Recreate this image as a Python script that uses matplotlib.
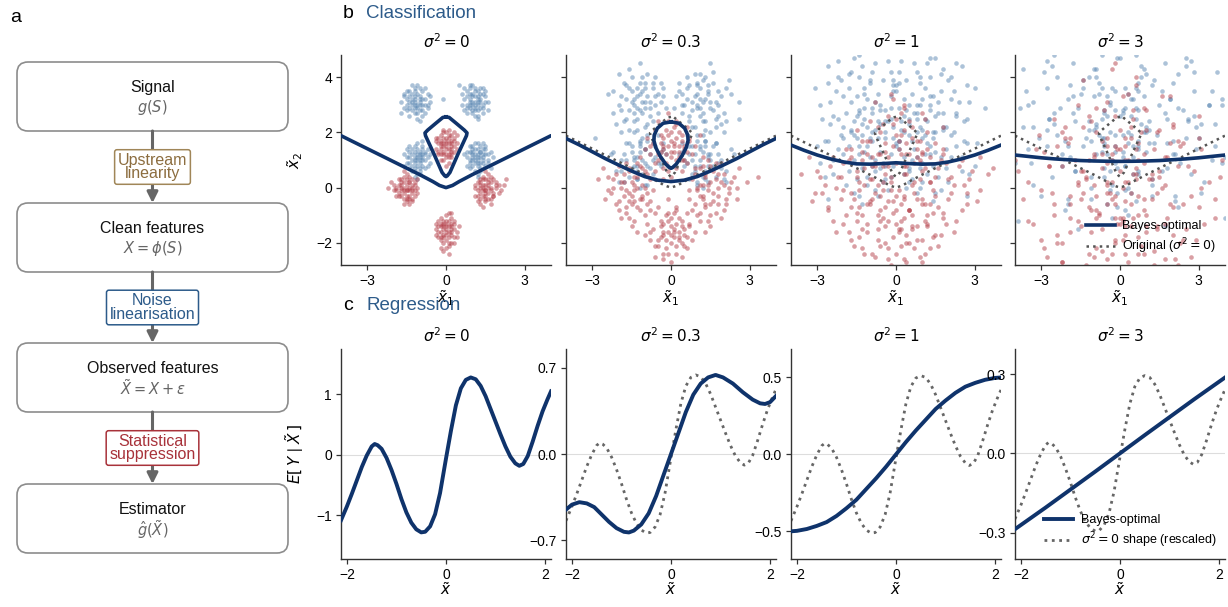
import numpy as np
import matplotlib.pyplot as plt
from matplotlib.patches import FancyBboxPatch

plt.rcParams['font.family'] = ['Liberation Sans', 'DejaVu Sans']
plt.rcParams['mathtext.fontset'] = 'dejavusans'

NAVY = '#0f336b'
BLUE_PT = '#5a87b3'
RED_PT = '#b5404a'
DOT_GRAY = '#555555'
HEAD_BLUE = '#2d5b8a'

# ---------------- data ----------------
sigma_labels = ['0', '0.3', '1', '3']

# classification scatter, coordinates in tenths (x, y)
cls0_blue = [(-12,31),(-10,33),(-14,29),(-9,30),(-13,34),(-11,27),(-8,32),(-15,32),(-12,36),(-10,28),(-7,30),(-14,26),(-11,30),(-13,31),(-9,35),(-16,29),(-12,33),(-10,31),(-6,33),(-15,35),(-11,25),(-13,28),(-8,27),(-12,29),(-9,32),(-14,33),(-10,36),(-17,31),(-11,34),(-7,34),(-13,30),(-12,27),(-8,30),(-15,28),(-10,30),(-12,32),(-14,31),(-9,28),(-11,37),(-16,33),
             (-13,37),(-6,31),(-17,27),(-10,24),(-14,35),(-8,36),(-12,30),(-16,34),(-9,26),(-11,29),(-13,32),(-7,29),(-15,30),(-10,32),(-12,35),
             (10,31),(12,33),(8,30),(11,28),(9,34),(13,31),(7,32),(11,35),(14,29),(10,27),(12,30),(9,32),(15,33),(11,31),(8,35),(13,36),(10,33),(6,30),(12,28),(9,29),(14,34),(11,26),(10,30),(13,32),(8,27),(12,35),(10,37),(16,31),(9,31),(11,33),(7,28),(13,29),(10,34),(12,31),(9,36),(14,30),(11,29),(8,33),(15,35),(12,26),(5,37),(-1,32),
             (9,37),(15,31),(6,34),(12,25),(14,36),(8,29),(11,30),(16,28),(7,36),(13,34),(10,28),(12,32),(9,30),(14,27),(11,36),
             (-11,10),(-9,12),(-13,8),(-10,7),(-12,13),(-8,10),(-14,11),(-11,14),(-10,9),(-12,6),(-9,8),(-13,12),(-7,11),(-11,11),(-15,9),(-10,13),(-12,9),(-8,13),(-11,5),(-14,7),(-9,15),(-13,10),(-10,11),(-6,9),(-12,11),(-11,8),(-16,12),(-9,10),(-13,14),(-10,6),(-8,7),(-12,15),(-11,12),(-14,13),(-7,14),(-10,10),(-12,7),(-9,17),(-15,11),(-11,3),
             (-15,14),(-7,8),(-12,4),(-9,14),(-14,9),(-10,12),(-13,6),(-8,12),(-16,8),(-11,16),(-6,12),(-12,10),(-10,5),(-14,15),(-9,11),
             (12,11),(10,12),(14,10),(11,9),(13,13),(9,10),(15,12),(12,14),(10,8),(13,7),(11,12),(14,14),(8,11),(12,9),(16,10),(10,15),(13,11),(11,6),(9,13),(15,8),(12,12),(14,11),(10,10),(17,13),(11,14),(13,9),(8,8),(12,16),(15,15),(11,11),(9,7),(14,12),(12,8),(10,13),(16,9),(13,15),(11,10),(7,12),(12,5),(18,11),
             (15,14),(9,9),(12,4),(10,14),(14,9),(12,10),(16,12),(8,13),(13,6),(11,16),(17,7),(10,11),(13,13),(9,15),(14,16)]
cls0_red = [(0,15),(2,17),(-2,14),(1,12),(-1,18),(3,15),(-3,16),(0,11),(2,13),(-2,19),(1,16),(-1,13),(0,20),(4,16),(-4,14),(1,9),(-1,16),(2,19),(-3,12),(0,14),(3,18),(-2,17),(1,14),(-1,10),(2,16),(0,17),(-4,17),(3,13),(-1,15),(1,18),(0,12),(-2,15),(2,11),(-3,18),(1,21),(0,8),(4,19),(-1,20),(2,14),(-2,12),
            (-2,10),(3,20),(1,11),(-3,13),(2,15),(-1,21),(4,14),(0,16),(-4,18),(2,12),(-2,16),(1,19),(3,17),(-1,12),(0,18),
            (-15,-1),(-13,1),(-17,0),(-14,-3),(-16,2),(-12,-1),(-18,-2),(-15,3),(-14,0),(-16,-4),(-13,-2),(-17,1),(-11,0),(-15,-1),(-19,0),(-14,2),(-16,-2),(-12,1),(-15,-5),(-18,3),(-13,-4),(-17,-1),(-14,-1),(-20,1),(-15,1),(-16,0),(-12,-3),(-15,5),(-13,3),(-18,-3),(-14,-6),(-16,4),(-11,-2),(-17,2),(-15,-3),(-13,0),(-19,-1),(-14,4),(-16,-6),(-21,2),
            (-17,3),(-13,-5),(-19,-3),(-12,2),(-16,-1),(-14,2),(-18,1),(-20,-1),(-13,-1),(-15,-4),(-17,-3),(-11,3),(-16,6),(-14,-4),(-22,0),
            (15,-1),(13,1),(17,0),(14,-3),(16,2),(12,-1),(18,-2),(15,3),(14,0),(16,-4),(13,-2),(17,2),(11,1),(15,1),(19,0),(14,4),(16,-2),(12,2),(15,-5),(18,3),(13,-4),(17,-1),(14,1),(20,1),(15,-2),(16,0),(12,-3),(15,6),(13,3),(18,-3),(14,-7),(16,5),(11,0),(19,2),(15,-3),(13,0),(21,-1),(14,3),(17,-6),(23,3),
            (16,3),(12,-5),(18,-3),(13,2),(15,-1),(17,4),(19,1),(20,-2),(14,-1),(15,-4),(17,-4),(11,-3),(16,1),(13,-6),(22,1),
            (0,-15),(2,-13),(-2,-16),(1,-18),(-1,-12),(3,-15),(-3,-14),(0,-19),(2,-17),(-2,-11),(1,-14),(-1,-17),(0,-10),(4,-16),(-4,-15),(1,-21),(-1,-15),(2,-11),(-3,-18),(0,-13),(3,-12),(-2,-14),(1,-16),(-1,-20),(2,-15),(0,-17),(-4,-13),(3,-18),(-1,-14),(1,-12),(0,-22),(-2,-19),(2,-20),(-3,-16),(1,-9),(0,-16),(5,-14),(-1,-23),(2,-14),(-2,-13),
            (-2,-18),(3,-13),(1,-20),(-3,-12),(2,-16),(-1,-13),(4,-18),(0,-14),(-4,-17),(2,-9),(-2,-22),(1,-24),(3,-20),(-1,-18),(0,-12)]

cls1_blue = [(-18,38),(-5,27),(-14,24),(-9,41),(-20,30),(-12,34),(-3,33),(-16,36),(-10,22),(-13,29),(-7,36),(-22,27),(-11,31),(-15,40),(-6,30),(-17,25),(-9,33),(-12,45),(-24,34),(-4,38),(-14,32),(-8,26),(-19,33),(-10,38),(-13,21),(-2,29),(-16,28),(-11,35),(-7,24),(-15,31),(-12,28),(-20,41),(-8,31),(-17,37),(-5,34),(-13,36),(-10,29),(-21,23),(-6,40),(-14,27),
             (-15,35),(-8,29),(-11,40),(-19,28),(-6,33),(-13,25),(-10,36),(-17,32),(-4,31),(-12,38),(-14,30),(-9,23),(-16,43),(-7,38),(-22,35),(-11,27),(-3,36),(-18,24),(-13,33),(-10,31),
             (16,38),(4,27),(12,24),(9,41),(18,30),(10,34),(2,33),(14,37),(8,22),(11,29),(6,36),(20,27),(11,32),(15,45),(5,30),(17,25),(9,33),(13,40),(23,34),(3,38),(12,31),(7,26),(19,33),(10,38),(13,21),(1,29),(16,28),(11,36),(7,24),(15,31),(12,27),(22,39),(8,31),(18,35),(4,34),(14,35),(10,29),(21,24),(6,40),(26,31),
             (14,34),(8,28),(11,41),(18,26),(6,32),(13,24),(10,37),(17,31),(4,30),(12,39),(15,29),(9,22),(16,42),(7,37),(21,36),(11,26),(3,35),(19,23),(13,32),(10,30),
             (-17,16),(-4,8),(-13,3),(-9,19),(-19,10),(-12,13),(-2,12),(-15,15),(-10,1),(-13,8),(-6,15),(-21,6),(-11,10),(-14,20),(-5,9),(-16,4),(-8,12),(-12,17),(-23,12),(-3,16),(-14,11),(-7,5),(-18,12),(-9,17),(-12,0),(-1,8),(-15,7),(-10,14),(-6,3),(-14,10),(-29,18),(-19,20),(-7,10),(-16,16),(-4,13),(-12,15),(-9,8),(-20,2),(-5,19),(-13,6),
             (-15,13),(-8,7),(-11,18),(-19,6),(-6,11),(-13,3),(-10,14),(-17,10),(-4,9),(-12,16),(-14,8),(-9,1),(-16,21),(-7,16),(-22,13),(-11,5),(-3,14),(-18,2),(-13,11),(-10,9),
             (17,16),(5,8),(13,3),(10,19),(19,10),(12,13),(3,12),(16,15),(10,1),(14,8),(7,15),(21,6),(11,10),(15,20),(6,9),(17,4),(9,12),(13,17),(24,12),(4,16),(14,11),(8,5),(18,12),(10,17),(12,0),(2,8),(16,7),(11,14),(7,3),(15,10),(26,25),(20,20),(8,10),(17,16),(5,13),(13,15),(9,8),(21,2),(6,19),(13,6),
             (15,12),(9,6),(12,19),(19,7),(7,12),(14,2),(11,15),(18,9),(5,10),(13,17),(16,8),(10,2),(17,22),(8,15),(23,14),(12,4),(4,13),(20,3),(14,12),(11,8)]
cls1_red = [(-6,21),(5,10),(2,24),(-3,7),(7,18),(-1,15),(-8,12),(4,17),(0,4),(-4,19),(3,13),(-7,16),(1,22),(6,9),(-2,12),(9,15),(-5,10),(2,18),(-1,27),(5,14),(-9,18),(0,11),(3,20),(-3,14),(8,12),(-6,6),(1,16),(-2,21),(4,6),(-4,13),(11,19),(0,17),(-10,14),(2,10),(-1,19),(6,22),(-3,3),(3,15),(-5,24),(1,13),
            (-4,16),(3,11),(0,20),(-6,9),(5,15),(-1,6),(2,23),(-3,18),(6,13),(0,13),(-8,15),(4,19),(-2,9),(1,15),(7,17),(-5,12),(2,7),(-1,24),(4,10),(-3,15),
            (-21,5),(-9,-6),(-12,8),(-17,-9),(-8,3),(-14,-1),(-23,-2),(-11,1),(-15,-14),(-19,2),(-12,-4),(-16,6),(-10,-10),(-24,4),(-13,-7),(-18,-3),(-7,-1),(-15,2),(-20,-8),(-11,-3),(-17,9),(-14,-12),(-22,0),(-9,5),(-16,-5),(-28,3),(-13,4),(-19,-11),(-10,0),(-15,-6),(-25,-4),(-12,11),(-18,5),(-8,-8),(-14,1),(-21,-6),(-16,-2),(-11,7),(-26,7),(-13,-16),
            (-18,2),(-11,-4),(-16,7),(-20,-5),(-13,0),(-9,-2),(-17,-7),(-14,4),(-22,3),(-12,-8),(-19,0),(-15,-3),(-10,6),(-24,-1),(-16,-11),(-13,9),(-20,8),(-8,-5),(-17,-1),(-14,-5),
            (20,5),(9,-6),(12,8),(17,-9),(8,3),(14,-1),(22,-2),(11,1),(15,-14),(19,2),(12,-4),(16,6),(10,-10),(24,4),(13,-7),(18,-3),(7,-1),(15,2),(20,-8),(11,-3),(17,9),(14,-12),(22,0),(9,5),(16,-5),(29,2),(13,4),(19,-11),(10,0),(15,-6),(25,-4),(12,11),(18,5),(8,-8),(14,1),(21,-6),(33,4),(11,7),(26,7),(13,-16),
            (17,3),(12,-3),(15,8),(21,-4),(12,1),(10,-1),(18,-6),(13,5),(23,2),(11,-9),(20,1),(16,-2),(9,7),(25,0),(15,-10),(14,10),(19,9),(7,-4),(18,0),(13,-6),
            (-6,-9),(5,-21),(2,-7),(-3,-24),(7,-13),(-1,-16),(-8,-19),(4,-14),(0,-27),(-4,-12),(3,-18),(-7,-15),(1,-9),(6,-22),(-2,-19),(9,-16),(-5,-21),(2,-13),(-1,-4),(5,-17),(-9,-13),(0,-20),(3,-11),(-3,-17),(8,-19),(-6,-25),(1,-15),(-2,-10),(4,-25),(-4,-18),(11,-12),(0,-14),(-10,-17),(2,-21),(-1,-12),(6,-9),(-3,-26),(3,-16),(-5,-7),(1,-18),
            (-4,-14),(3,-19),(0,-11),(-6,-21),(5,-15),(-1,-24),(2,-8),(-3,-13),(6,-18),(0,-17),(-8,-16),(4,-12),(-2,-22),(1,-16),(7,-14),(-5,-19),(2,-24),(-1,-9),(4,-20),(-3,-16)]

cls2_blue = [(-22,40),(-3,24),(-15,18),(-8,45),(-25,31),(-12,36),(0,35),(-18,41),(-9,20),(-14,28),(-5,39),(-28,25),(-11,32),(-16,47),(-2,29),(-20,22),(-7,34),(-13,50),(-31,36),(1,42),(-15,33),(-6,23),(-23,35),(-9,42),(-14,15),(4,28),(-19,27),(-10,38),(-4,20),(-17,31),(-12,25),(-26,44),(-6,30),(-21,39),(-1,37),(-14,40),(-9,27),(-27,17),(-3,46),(-16,24),
             (-18,36),(-6,28),(-13,44),(-24,26),(-2,33),(-16,19),(-10,39),(-20,33),(-4,24),(-14,48),(-8,31),(-29,30),(-11,22),(-17,42),(1,38),(-22,46),(-7,18),(-12,34),(-26,38),(-9,29),
             (21,40),(2,24),(14,18),(7,45),(24,31),(11,36),(-1,35),(17,41),(8,20),(13,28),(4,39),(27,25),(10,32),(15,47),(1,29),(19,22),(6,34),(12,50),(30,36),(-2,42),(14,33),(5,23),(22,35),(8,42),(13,15),(-4,28),(18,27),(9,38),(3,20),(16,31),(11,25),(25,44),(5,30),(20,39),(0,37),(13,40),(8,27),(26,17),(2,46),(34,29),
             (17,35),(7,27),(12,45),(23,27),(3,32),(15,20),(9,40),(21,32),(5,25),(13,47),(9,30),(28,31),(10,21),(18,43),(-1,39),(23,45),(6,17),(13,33),(27,37),(8,30),
             (-21,19),(-2,4),(-14,-3),(-7,24),(-24,10),(-11,15),(1,14),(-17,20),(-8,-1),(-13,7),(-4,18),(-27,4),(-10,11),(-15,26),(-1,8),(-19,1),(-6,13),(-12,29),(-30,15),(2,21),(-14,12),(-5,2),(-22,14),(-8,21),(-13,-6),(5,7),(-18,6),(-9,17),(-3,-1),(-16,10),(-11,4),(-25,23),(-5,9),(-20,18),(0,16),(-13,19),(-8,6),(-26,-4),(-2,25),(-15,3),
             (-18,15),(-6,7),(-13,23),(-24,5),(-2,12),(-16,-2),(-10,18),(-20,12),(-4,3),(-14,27),(-8,10),(-29,9),(-11,1),(-17,21),(1,17),(-22,25),(-7,-3),(-12,13),(-26,17),(-9,8),
             (22,20),(3,5),(15,-2),(8,25),(25,11),(12,16),(0,15),(18,21),(9,0),(14,8),(5,19),(28,5),(11,12),(16,27),(2,9),(20,2),(7,14),(13,30),(31,16),(-1,22),(15,13),(6,3),(23,15),(9,22),(14,-5),(-4,8),(19,7),(10,18),(4,0),(17,11),(12,5),(26,24),(6,10),(21,19),(1,17),(14,20),(9,7),(27,-3),(3,26),(16,4),
             (19,14),(5,6),(12,24),(25,6),(3,11),(17,-1),(11,19),(21,11),(5,2),(15,26),(8,11),(30,8),(10,2),(18,22),(-1,18),(23,26),(8,-2),(13,12),(27,16),(10,9)]
cls2_red = [(-10,24),(9,9),(3,29),(-5,2),(12,20),(-1,15),(-13,10),(6,18),(0,-3),(-7,22),(4,12),(-11,17),(2,27),(10,6),(-3,11),(15,16),(-8,8),(3,21),(-2,34),(8,14),(-15,21),(0,9),(5,24),(-4,13),(13,11),(-9,3),(1,17),(-3,26),(7,2),(-6,12),(18,22),(0,19),(-17,14),(3,8),(-1,23),(10,27),(-5,-1),(4,16),(-8,31),(2,12),
            (-6,20),(5,12),(0,25),(-9,8),(8,17),(-2,4),(3,30),(-5,23),(10,13),(1,14),(-13,17),(6,22),(-3,8),(2,19),(11,25),(-7,12),(4,5),(-1,32),(7,9),(-4,16),
            (-25,8),(-6,-8),(-11,12),(-20,-13),(-4,5),(-14,-1),(-28,-2),(-10,3),(-16,-21),(-22,4),(-11,-6),(-18,10),(-7,-15),(-30,6),(-13,-10),(-21,-4),(-2,-1),(-15,4),(-24,-12),(-9,-4),(-19,14),(-14,-18),(-27,1),(-5,8),(-17,-7),(-36,5),(-12,7),(-23,-16),(-7,1),(-15,-9),(-32,-5),(-10,17),(-20,9),(-3,-12),(-14,2),(-26,-8),(-17,-2),(-9,11),(-33,11),(-12,-24),
            (-21,4),(-10,-5),(-17,11),(-26,-7),(-12,1),(-6,-3),(-19,-10),(-15,6),(-29,4),(-11,-13),(-23,0),(-16,-4),(-8,9),(-31,-2),(-18,-16),(-13,13),(-24,11),(-4,-7),(-20,-1),(-14,-7),
            (24,8),(5,-8),(10,12),(19,-13),(3,5),(14,-1),(27,-2),(9,3),(16,-21),(21,4),(10,-6),(17,10),(6,-15),(29,6),(12,-10),(20,-4),(1,-1),(15,4),(23,-12),(8,-4),(18,14),(14,-18),(26,1),(4,8),(16,-7),(35,5),(11,7),(22,-16),(6,1),(14,-9),(31,-5),(9,17),(19,9),(2,-12),(13,2),(25,-8),(37,7),(8,11),(32,11),(11,-24),
            (20,3),(11,-6),(18,12),(27,-6),(13,2),(7,-2),(18,-11),(16,7),(28,3),(12,-14),(22,1),(15,-3),(9,10),(32,-1),(17,-17),(12,14),(25,10),(5,-8),(21,-2),(13,-6),
            (-10,-6),(9,-25),(3,-3),(-5,-29),(12,-13),(-1,-18),(-13,-22),(6,-14),(0,-34),(-7,-10),(4,-20),(-11,-16),(2,-6),(10,-27),(-3,-22),(15,-17),(-8,-25),(3,-11),(-2,2),(8,-19),(-15,-12),(0,-24),(5,-8),(-4,-20),(13,-22),(-9,-31),(1,-15),(-3,-5),(7,-31),(-6,-21),(18,-9),(0,-13),(-17,-19),(3,-26),(-1,-9),(10,-4),(-5,-33),(4,-17),(-8,-2),(2,-21),
            (-6,-12),(5,-20),(0,-8),(-9,-24),(8,-14),(-2,-28),(3,-4),(-5,-11),(10,-19),(1,-16),(-13,-15),(6,-10),(-3,-26),(2,-15),(11,-12),(-7,-19),(4,-27),(-1,-5),(7,-22),(-4,-14)]

cls3_blue = [(-28,46),(3,20),(-22,12),(-5,52),(-35,30),(-14,39),(7,38),(-26,44),(-6,15),(-18,27),(-1,47),(-42,22),(-10,33),(-20,58),(4,26),(-31,18),(-3,36),(-16,55),(-47,38),(9,43),(-20,32),(-2,19),(-36,35),(-7,48),(-17,6),(11,24),(-27,25),(-9,40),(1,13),(-23,29),(-12,21),(-39,50),(-2,28),(-29,42),(6,36),(-18,45),(-7,25),(-40,9),(2,55),(-21,17),
             (-24,40),(2,29),(-16,50),(-33,22),(7,35),(-20,15),(-9,43),(-28,36),(4,19),(-18,54),(-5,33),(-41,31),(-11,17),(-25,48),(10,41),(-33,52),(-3,10),(-14,36),(-37,43),(-6,28),
             (27,46),(-4,20),(21,12),(4,52),(34,30),(13,39),(-8,38),(25,44),(5,15),(17,27),(0,47),(41,22),(9,33),(19,58),(-5,26),(30,18),(2,36),(15,55),(46,38),(-10,43),(19,32),(1,19),(35,35),(6,48),(16,6),(-12,24),(26,25),(8,40),(-2,13),(22,29),(11,21),(38,50),(1,28),(28,42),(-7,36),(17,45),(6,25),(39,9),(-3,55),(20,17),
             (22,41),(-4,30),(16,49),(31,23),(-8,34),(18,16),(8,44),(28,35),(-6,18),(16,53),(4,32),(39,32),(11,16),(25,47),(-12,40),(33,51),(1,11),(12,37),(37,42),(6,29),
             (-27,25),(3,0),(-21,-8),(-4,31),(-34,9),(-13,18),(7,17),(-25,23),(-5,-6),(-17,6),(0,26),(-41,1),(-9,12),(-19,37),(5,5),(-30,-3),(-2,15),(-15,34),(-46,17),(10,22),(-19,11),(-1,-2),(-35,14),(-6,27),(-16,-15),(12,3),(-26,4),(-8,19),(2,-8),(-22,8),(-11,0),(-38,29),(-1,7),(-28,21),(7,15),(-17,24),(-6,4),(-39,-12),(3,34),(-20,-4),
             (-24,19),(2,8),(-16,29),(-33,1),(7,14),(-20,-6),(-9,22),(-28,15),(4,-2),(-18,33),(-5,12),(-41,10),(-11,-4),(-25,27),(10,20),(-33,31),(-3,-11),(-14,15),(-37,22),(-6,7),
             (28,26),(-3,1),(22,-7),(5,32),(35,10),(14,19),(-7,18),(26,24),(6,-5),(18,7),(1,27),(42,2),(10,13),(20,38),(-4,6),(31,-2),(3,16),(16,35),(47,18),(-9,23),(20,12),(2,-1),(36,15),(7,28),(17,-14),(-11,4),(27,5),(9,20),(-1,-7),(23,9),(12,1),(39,30),(2,8),(29,22),(-6,16),(18,25),(7,5),(40,-11),(-2,35),(21,-3),
             (25,18),(-2,9),(15,30),(32,2),(-7,13),(21,-5),(8,23),(29,14),(-4,-1),(19,32),(5,11),(40,11),(12,-3),(24,28),(-10,21),(34,30),(3,-10),(13,16),(36,23),(7,6)]
cls3_red = [(-16,30),(15,4),(6,37),(-9,-3),(20,23),(-2,15),(-22,8),(10,21),(1,-11),(-12,26),(7,10),(-19,18),(3,34),(17,1),(-5,9),(24,16),(-13,4),(5,25),(-3,43),(13,14),(-25,25),(0,6),(9,29),(-7,12),(22,8),(-15,-4),(2,18),(-5,31),(12,-4),(-10,11),(30,26),(0,21),(-29,13),(5,5),(-2,26),(16,33),(-9,-8),(7,16),(-14,39),(3,10),
            (-11,24),(9,9),(1,33),(-16,2),(14,20),(-4,-2),(6,40),(-9,29),(17,11),(2,15),(-22,20),(10,28),(-5,2),(4,22),(19,33),(-12,10),(7,-3),(-2,45),(12,5),(-7,17),
            (-32,14),(-1,-13),(-9,20),(-24,-20),(2,10),(-14,-2),(-37,-4),(-7,7),(-17,-31),(-27,8),(-8,-10),(-20,16),(-3,-24),(-40,10),(-11,-16),(-25,-6),(4,-2),(-15,6),(-30,-19),(-5,-6),(-21,22),(-13,-28),(-35,2),(0,14),(-19,-11),(-45,9),(-10,12),(-28,-25),(-3,2),(-15,-14),(-42,-8),(-6,28),(-24,15),(1,-19),(-13,3),(-33,-13),(-19,-3),(-5,18),(-44,18),(-9,-36),
            (-27,8),(-8,-9),(-21,18),(-35,-12),(-10,1),(-3,-4),(-24,-17),(-17,10),(-39,6),(-9,-22),(-30,-1),(-19,-6),(-5,15),(-43,-3),(-22,-27),(-14,22),(-31,19),(1,-12),(-26,-2),(-16,-12),
            (31,14),(0,-13),(8,20),(23,-20),(-3,10),(14,-2),(36,-4),(6,7),(17,-31),(26,8),(7,-10),(19,16),(2,-24),(39,10),(10,-16),(24,-6),(-5,-2),(15,6),(29,-19),(4,-6),(20,22),(13,-28),(34,2),(-1,14),(18,-11),(44,9),(9,12),(27,-25),(2,2),(14,-14),(41,-8),(5,28),(23,15),(-2,-19),(12,3),(32,-13),(47,12),(4,18),(43,18),(8,-36),
            (28,6),(9,-8),(22,17),(36,-11),(11,3),(2,-5),(25,-15),(18,11),(38,4),(8,-21),(31,0),(20,-7),(6,14),(42,-2),(21,-26),(15,21),(30,18),(-2,-11),(27,-3),(17,-13),
            (-16,1),(15,-30),(6,3),(-9,-37),(20,-17),(-2,-20),(-22,-27),(10,-14),(1,-46),(-12,-7),(7,-24),(-19,-16),(3,2),(17,-33),(-5,-26),(24,-19),(-13,-34),(5,-11),(-3,12),(13,-23),(-25,-10),(0,-31),(9,-4),(-7,-23),(22,-28),(-15,-42),(2,-14),(-5,1),(12,-40),(-10,-25),(30,-7),(0,-11),(-29,-22),(5,-33),(-2,-6),(16,0),(-9,-44),(7,-18),(-14,6),(3,-27),
            (-11,-8),(9,-24),(1,0),(-16,-31),(14,-15),(-4,-36),(6,5),(-9,-11),(17,-26),(2,-17),(-22,-20),(10,-10),(-5,-39),(4,-14),(19,-6),(-12,-24),(7,-43),(-2,-3),(12,-32),(-7,-15)]

cls_blue = [cls0_blue, cls1_blue, cls2_blue, cls3_blue]
cls_red = [cls0_red, cls1_red, cls2_red, cls3_red]

# original (sigma^2 = 0) decision boundary: V branch and closed kite
v_x = [-4, -3, -2, -1, -0.5, -0.25, 0, 0.25, 0.5, 1, 2, 3, 4]
v_y = [1.88, 1.41, 0.94, 0.47, 0.22, 0.08, 0.0, 0.08, 0.22, 0.47, 0.94, 1.41, 1.88]
kite_x = [0, -0.12, -0.4, -0.7, -0.8, -0.78, -0.45, -0.15, -0.05, 0, 0.05, 0.15, 0.45, 0.78, 0.8, 0.7, 0.4, 0.12, 0]
kite_y = [2.56, 2.54, 2.32, 2.08, 1.98, 1.88, 1.2, 0.55, 0.43, 0.4, 0.43, 0.55, 1.2, 1.88, 1.98, 2.08, 2.32, 2.54, 2.56]

# Bayes-optimal boundaries for sigma^2 = 0.3, 1, 3
bnd_x = [-4, -3.5, -3, -2.5, -2, -1.5, -1, -0.5, 0, 0.5, 1, 1.5, 2, 2.5, 3, 3.5, 4]
bnd_y = [
    None,
    [1.78, 1.55, 1.3, 1.05, 0.82, 0.6, 0.4, 0.27, 0.22, 0.27, 0.4, 0.6, 0.82, 1.05, 1.3, 1.55, 1.78],
    [1.54, 1.35, 1.18, 1.04, 0.93, 0.86, 0.85, 0.87, 0.9, 0.87, 0.85, 0.86, 0.93, 1.04, 1.18, 1.35, 1.54],
    [1.18, 1.13, 1.08, 1.04, 1.01, 0.98, 0.965, 0.955, 0.95, 0.955, 0.965, 0.98, 1.01, 1.04, 1.08, 1.13, 1.18],
]
loop_x = [0, -0.3, -0.52, -0.64, -0.65, -0.58, -0.42, -0.2, -0.05, 0, 0.05, 0.2, 0.42, 0.58, 0.65, 0.64, 0.52, 0.3, 0]
loop_y = [2.38, 2.33, 2.15, 1.9, 1.7, 1.45, 1.15, 0.85, 0.72, 0.7, 0.72, 0.85, 1.15, 1.45, 1.7, 1.9, 2.15, 2.33, 2.38]

# regression: sigma^2 = 0 curve
g0_x = [-2.12, -2.0, -1.9, -1.8, -1.7, -1.6, -1.5, -1.44, -1.38, -1.3, -1.2, -1.1, -1.0, -0.9, -0.8,
        -0.7, -0.6, -0.5, -0.42, -0.32, -0.22, -0.12, 0.0, 0.1, 0.2, 0.3, 0.4, 0.5, 0.6, 0.7,
        0.8, 0.9, 1.0, 1.1, 1.2, 1.3, 1.4, 1.48, 1.56, 1.65, 1.75, 1.85, 1.95, 2.05, 2.12]
g0_y = [-1.08, -0.85, -0.64, -0.42, -0.20, -0.01, 0.14, 0.18, 0.16, 0.10, -0.05, -0.25, -0.48, -0.73, -0.95,
        -1.12, -1.23, -1.28, -1.27, -1.18, -0.98, -0.63, -0.06, 0.40, 0.82, 1.10, 1.24, 1.28, 1.25, 1.14,
        0.97, 0.76, 0.55, 0.34, 0.14, -0.03, -0.14, -0.18, -0.15, -0.02, 0.22, 0.48, 0.72, 0.92, 1.05]
# Bayes-optimal regression curves for sigma^2 = 0.3, 1, 3
reg_x = [
    [-2.12, -2.0, -1.85, -1.7, -1.55, -1.4, -1.25, -1.1, -0.95, -0.85, -0.75, -0.6, -0.45, -0.3, -0.15,
     0, 0.15, 0.3, 0.45, 0.6, 0.75, 0.9, 1.05, 1.25, 1.45, 1.65, 1.8, 1.9, 2.0, 2.12],
    [-2.12, -2.0, -1.8, -1.6, -1.4, -1.2, -1.0, -0.8, -0.6, -0.4, -0.2, 0, 0.2, 0.4, 0.6, 0.8, 1.0,
     1.2, 1.4, 1.6, 1.8, 2.0, 2.12],
    [-2.12, -1.5, -1.0, -0.5, 0, 0.5, 1.0, 1.5, 2.12],
]
reg_y = [
    [-0.45, -0.41, -0.39, -0.40, -0.43, -0.49, -0.55, -0.60, -0.63, -0.635, -0.62, -0.57, -0.48, -0.34, -0.17,
     0.0, 0.17, 0.34, 0.48, 0.57, 0.62, 0.64, 0.62, 0.57, 0.50, 0.44, 0.41, 0.405, 0.42, 0.47],
    [-0.50, -0.497, -0.485, -0.465, -0.44, -0.40, -0.35, -0.295, -0.225, -0.155, -0.08, 0, 0.08, 0.155,
     0.225, 0.295, 0.35, 0.40, 0.44, 0.465, 0.485, 0.497, 0.50],
    [-0.287, -0.205, -0.137, -0.069, 0, 0.069, 0.137, 0.205, 0.287],
]
shape_scale = [0.5, 0.4, 0.23]
reg_ylim = [(-1.72, 1.75), (-0.85, 0.85), (-0.68, 0.685), (-0.40, 0.395)]
reg_ticks = [[-1, 0, 1], [-0.7, 0, 0.7], [-0.5, 0, 0.5], [-0.3, 0, 0.3]]
reg_ticklabels = [['\u22121', '0', '1'], ['\u22120.7', '0.0', '0.7'],
                  ['\u22120.5', '0.0', '0.5'], ['\u22120.3', '0.0', '0.3']]

# ---------------- figure ----------------
W, H = 1228, 607
fig = plt.figure(figsize=(W / 100, H / 100), dpi=100)


def px_axes(left, top, w, h):
    return fig.add_axes([left / W, 1 - (top + h) / H, w / W, h / H])


def style(ax):
    for s in ['top', 'right']:
        ax.spines[s].set_visible(False)
    for s in ['left', 'bottom']:
        ax.spines[s].set_linewidth(1.0)
        ax.spines[s].set_color('#333333')
    ax.tick_params(direction='out', length=3.5, width=0.9, color='#333333', labelsize=10, pad=3)


lefts = [341, 566, 791, 1015]

# panel a: schematic
axa = fig.add_axes([0, 0, 300 / W, 1])
axa.set_xlim(0, 300)
axa.set_ylim(H, 0)
axa.axis('off')
boxes = [(62, 131, 'Signal', r'$g(S)$'),
         (203, 272, 'Clean features', r'$X = \phi(S)$'),
         (343, 412, 'Observed features', r'$\tilde{X} = X + \varepsilon$'),
         (484, 553, 'Estimator', r'$\hat{g}(\tilde{X})$')]
steps = [('Upstream\nlinearity', '#8c6d3f', '#a08658'),
         ('Noise\nlinearisation', '#2d5b8a', '#2d5b8a'),
         ('Statistical\nsuppression', '#a8323a', '#a8323a')]
cx = 152.5
for top, bot, title, sub in boxes:
    axa.add_patch(FancyBboxPatch((17, top), 271, bot - top,
                                 boxstyle='round,pad=0,rounding_size=11',
                                 fc='white', ec='#8c8c8c', lw=1.2))
    mid = (top + bot) / 2
    axa.text(cx, mid - 9, title, ha='center', va='center', fontsize=11.5, color='#111111')
    axa.text(cx, mid + 11, sub, ha='center', va='center', fontsize=10.5, color='#666666')
for i, (label, tc, ec) in enumerate(steps):
    y0 = boxes[i][1]
    y1 = boxes[i + 1][0]
    axa.annotate('', xy=(cx, y1), xytext=(cx, y0),
                 arrowprops=dict(arrowstyle='-|>', color='#666666', lw=2.2,
                                 mutation_scale=16, shrinkA=0, shrinkB=0))
    axa.text(cx, (y0 + y1) / 2, label, ha='center', va='center', fontsize=11.5,
             color=tc, linespacing=0.85,
             bbox=dict(boxstyle='round,pad=0.2,rounding_size=0.15', fc='white', ec=ec, lw=1.1))

fig.text(16 / W, 1 - 17 / H, 'a', fontsize=14, ha='center', va='center')
fig.text(348 / W, 1 - 14 / H, 'b', fontsize=14, ha='center', va='center')
fig.text(366 / W, 1 - 14 / H, 'Classification', fontsize=13.5, ha='left', va='center', color=HEAD_BLUE)
fig.text(348 / W, 1 - 305 / H, 'c', fontsize=14, ha='center', va='center')
fig.text(366 / W, 1 - 305 / H, 'Regression', fontsize=13.5, ha='left', va='center', color=HEAD_BLUE)

# panel b: classification
for k in range(4):
    ax = px_axes(lefts[k], 55, 210, 210)
    style(ax)
    b = np.array(cls_blue[k], dtype=float) / 10
    r = np.array(cls_red[k], dtype=float) / 10
    ax.scatter(b[:, 0], b[:, 1], s=11, color=BLUE_PT, alpha=0.5, linewidths=0, zorder=1)
    ax.scatter(r[:, 0], r[:, 1], s=11, color=RED_PT, alpha=0.5, linewidths=0, zorder=1)
    if k == 0:
        ax.plot(v_x, v_y, color=NAVY, lw=2.6, zorder=3, solid_capstyle='round')
        ax.plot(kite_x, kite_y, color=NAVY, lw=2.6, zorder=3, solid_joinstyle='round')
    else:
        ax.plot(v_x, v_y, color=DOT_GRAY, lw=1.8, ls=':', zorder=2)
        ax.plot(kite_x, kite_y, color=DOT_GRAY, lw=1.8, ls=':', zorder=2)
        ax.plot(bnd_x, bnd_y[k], color=NAVY, lw=2.6, zorder=3, label='Bayes-optimal')
        if k == 1:
            ax.plot(loop_x, loop_y, color=NAVY, lw=2.6, zorder=3)
    ax.set_xlim(-4, 4)
    ax.set_ylim(-2.8, 4.8)
    ax.set_xticks([-3, 0, 3])
    ax.set_xticklabels(['\u22123', '0', '3'])
    ax.set_yticks([-2, 0, 2, 4])
    if k == 0:
        ax.set_yticklabels(['\u22122', '0', '2', '4'])
        ax.set_ylabel(r'$\tilde{x}_2$', fontsize=11, labelpad=8)
    else:
        ax.set_yticklabels([])
    ax.set_xlabel(r'$\tilde{x}_1$', fontsize=11, labelpad=0)
    ax.set_title(r'$\sigma^2 = %s$' % sigma_labels[k], fontsize=11, pad=5)
    if k == 3:
        ax.plot([], [], color=DOT_GRAY, lw=1.8, ls=':', label=r'Original ($\sigma^2 = 0$)')
        ax.legend(loc='lower right', frameon=False, fontsize=9, handlelength=2.3,
                  borderaxespad=0.3, labelspacing=0.35, handletextpad=0.6)

# panel c: regression
for k in range(4):
    ax = px_axes(lefts[k], 349, 210, 210)
    style(ax)
    ax.axhline(0, color='#dddddd', lw=0.8, zorder=0)
    if k == 0:
        ax.plot(g0_x, g0_y, color=NAVY, lw=2.8, zorder=3)
    else:
        ax.plot(g0_x, np.array(g0_y) * shape_scale[k - 1], color='#666666', lw=2.0, ls=':',
                zorder=2)
        ax.plot(reg_x[k - 1], reg_y[k - 1], color=NAVY, lw=2.8, zorder=3)
    ax.set_xlim(-2.12, 2.12)
    ax.set_ylim(*reg_ylim[k])
    ax.set_xticks([-2, 0, 2])
    ax.set_xticklabels(['\u22122', '0', '2'])
    ax.set_yticks(reg_ticks[k])
    ax.set_yticklabels(reg_ticklabels[k])
    ax.set_xlabel(r'$\tilde{x}$', fontsize=11, labelpad=-1)
    ax.set_title(r'$\sigma^2 = %s$' % sigma_labels[k], fontsize=11, pad=5)
    if k == 0:
        ax.set_ylabel(r'$E[\,Y\mid\tilde{X}\,]$', fontsize=11, labelpad=7)
    if k == 3:
        ax.plot([], [], color=NAVY, lw=2.8, label='Bayes-optimal')
        ax.plot([], [], color='#666666', lw=2.0, ls=':', label=r'$\sigma^2 = 0$ shape (rescaled)')
        ax.legend(loc='lower right', frameon=False, fontsize=9, handlelength=2.3,
                  borderaxespad=0.3, labelspacing=0.35, handletextpad=0.6)

fig.savefig('out.png', dpi=100)
